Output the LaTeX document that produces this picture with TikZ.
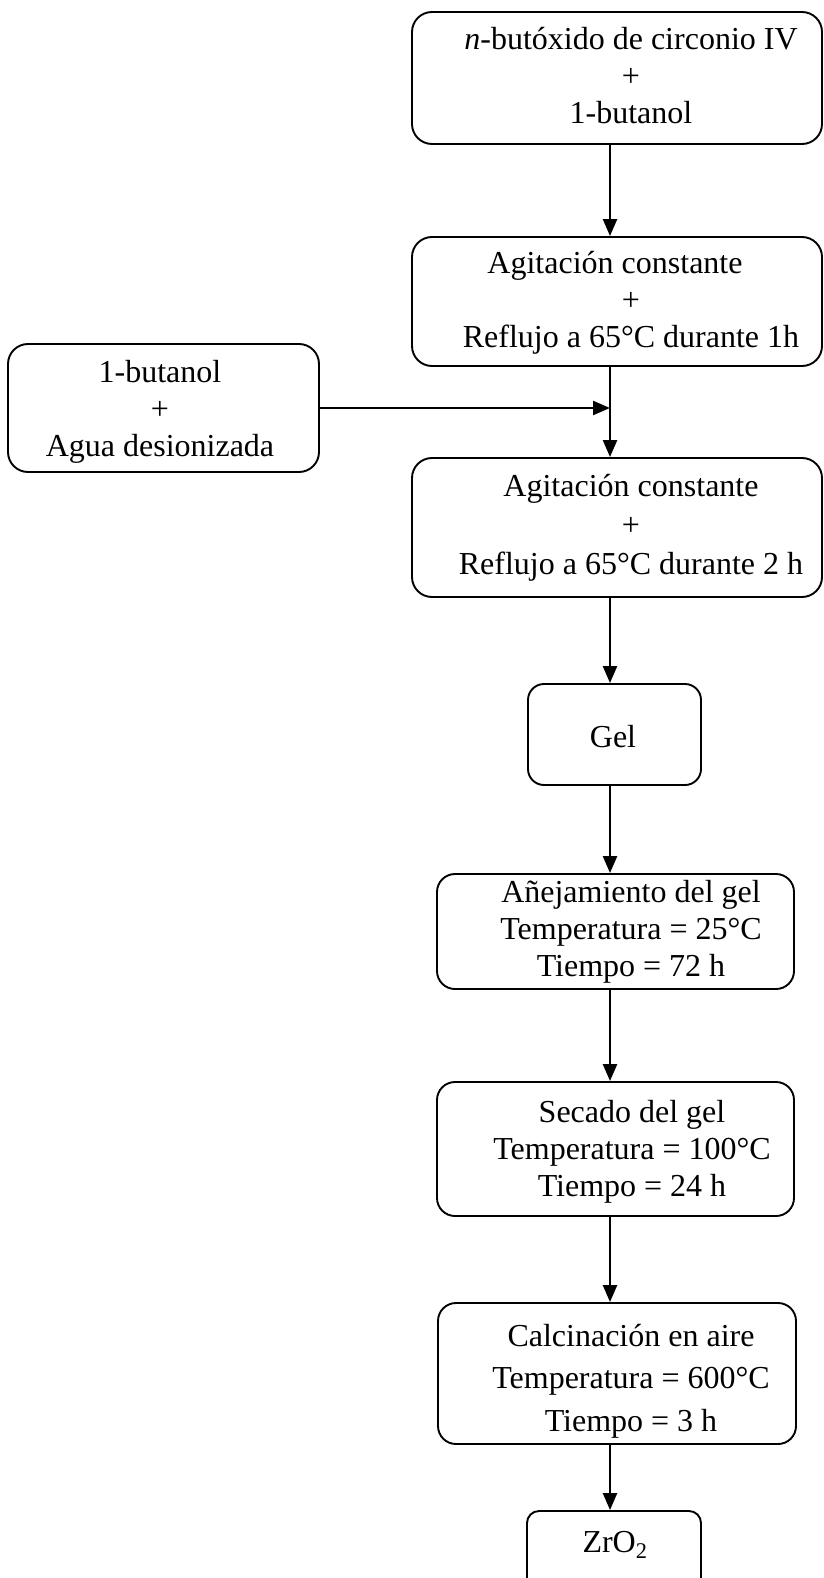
\documentclass[tikz,border=0pt]{standalone}
\usepackage{fontspec}
\setmainfont{Liberation Serif}
\usetikzlibrary{arrows.meta,positioning}

\begin{document}
\begin{tikzpicture}[
  x=1pt,y=-1pt,
  box/.style={draw,rounded corners=20pt,line width=1.9pt},
  txt/.style={align=center,inner sep=0pt,font=\fontsize{32}{37}\selectfont},
  arr/.style={-{Triangle[length=17pt,width=14pt]},line width=2.4pt},
]
  \useasboundingbox (0,0) rectangle (823,1578);
  \coordinate (spine) at (610,0);

  % Precursor
  \node[box,minimum width=410pt,minimum height=132pt] (mix) at (617,78) {};
  \node[txt] (mixT) at (631,76) {\textit{n}-butóxido de circonio IV\\+\\1-butanol};

  % First reflux
  \node[box,minimum width=410pt,minimum height=129pt] (stirA) at (617,301.5) {};
  \node[txt] (stirAT) at (631,303) {Agitación constante\hspace*{32pt}\\+\\Reflujo a 65°C durante 1h};

  % Hydrolysis feed
  \node[box,minimum width=311pt,minimum height=128pt] (feed) at (163.5,408) {};
  \node[txt] (feedT) at (160,412) {1-butanol\\+\\Agua desionizada};

  % Second reflux
  \node[box,minimum width=410pt,minimum height=139pt] (stirB) at (617,527.5) {};
  \node[txt,font=\fontsize{32}{39}\selectfont] (stirBT) at (631,528) {Agitación constante\\+\\Reflujo a 65°C durante 2 h};

  % Gel
  \node[box,rounded corners=16pt,minimum width=173pt,minimum height=101pt] (gel) at (614.5,734.5) {};
  \node[txt] (gelT) at (613,737) {Gel};

  % Aging, drying, calcination
  \node[box,rounded corners=18pt,minimum width=357pt,minimum height=115pt] (aging) at (615.5,931.5) {};
  \node[txt] (agingT) at (631,932) {Añejamiento del gel\\Temperatura = 25°C\\Tiempo = 72 h};

  \node[box,rounded corners=18pt,minimum width=357pt,minimum height=134pt] (drying) at (615.5,1149) {};
  \node[txt] (dryingT) at (632,1152) {Secado del gel\\Temperatura = 100°C\\Tiempo = 24 h};

  \node[box,rounded corners=18pt,minimum width=358pt,minimum height=141pt] (calc) at (617,1373.5) {};
  \node[txt,font=\fontsize{32}{42.5}\selectfont] (calcT) at (631,1381) {Calcinación en aire\\Temperatura = 600°C\\Tiempo = 3 h};

  % Product
  \node[box,rounded corners=12pt,minimum width=174pt,minimum height=89pt] (oxide) at (614,1555.5) {};
  \node[txt] (oxideT) at (615,1545) {ZrO\textsubscript{2}};

  % Arrows
  \draw[arr] (mix.south -| spine) -- (stirA.north -| spine);
  \draw[arr] (stirA.south -| spine) -- (stirB.north -| spine);
  \draw[arr] (feed.east) -- (feed.east -| spine);
  \draw[arr] (stirB.south -| spine) -- (gel.north -| spine);
  \draw[arr] (gel.south -| spine) -- (aging.north -| spine);
  \draw[arr] (aging.south -| spine) -- (drying.north -| spine);
  \draw[arr] (drying.south -| spine) -- (calc.north -| spine);
  \draw[arr] (calc.south -| spine) -- (oxide.north -| spine);
\end{tikzpicture}
\end{document}
